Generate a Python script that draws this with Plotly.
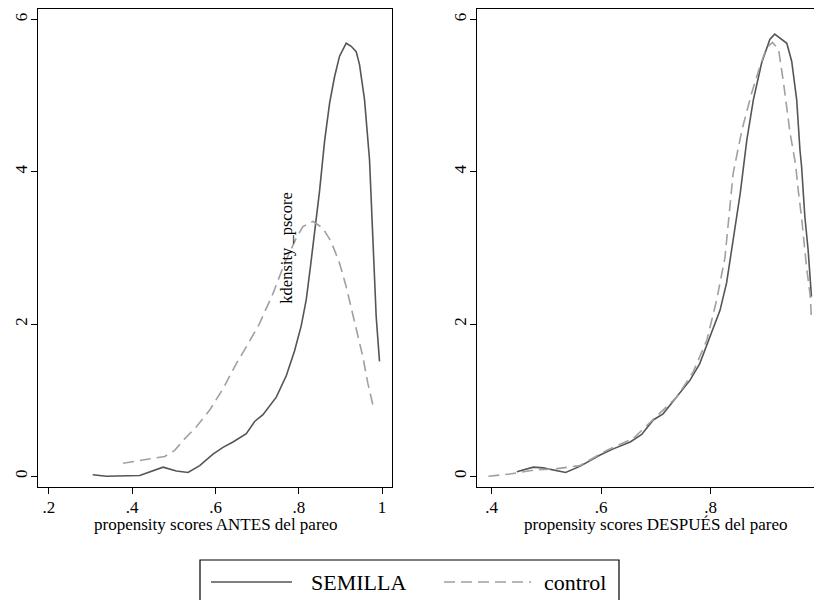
import plotly.graph_objects as go

# kdensity of propensity scores, before matching (ANTES)
antes_semilla_x = [0.305, 0.338, 0.418, 0.450, 0.474, 0.506, 0.534, 0.562, 0.594, 0.618, 0.642,
                   0.674, 0.694, 0.714, 0.746, 0.770, 0.790, 0.806, 0.818, 0.828, 0.838, 0.850,
                   0.862, 0.874, 0.886, 0.898, 0.914, 0.926, 0.938, 0.946, 0.958, 0.970, 0.986, 0.994]
antes_semilla_y = [0.02, 0.00, 0.01, 0.07, 0.12, 0.07, 0.05, 0.14, 0.29, 0.38, 0.45,
                   0.56, 0.72, 0.81, 1.04, 1.32, 1.65, 1.98, 2.32, 2.75, 3.20, 3.75,
                   4.40, 4.90, 5.25, 5.52, 5.69, 5.65, 5.58, 5.41, 4.95, 4.16, 2.10, 1.51]
antes_control_x = [0.378, 0.418, 0.450, 0.478, 0.502, 0.522, 0.554, 0.586, 0.618, 0.650, 0.674,
                   0.706, 0.738, 0.766, 0.794, 0.810, 0.834, 0.858, 0.878, 0.898, 0.914, 0.926,
                   0.938, 0.954, 0.966, 0.978]
antes_control_y = [0.17, 0.21, 0.24, 0.26, 0.34, 0.47, 0.65, 0.87, 1.15, 1.48, 1.70,
                   2.01, 2.40, 2.80, 3.13, 3.28, 3.35, 3.26, 3.08, 2.80, 2.49, 2.22,
                   1.96, 1.57, 1.22, 0.94]

# after matching (DESPUÉS)
despues_semilla_x = [0.446, 0.476, 0.494, 0.513, 0.535, 0.561, 0.598, 0.622, 0.653, 0.674, 0.695,
                     0.713, 0.741, 0.762, 0.780, 0.799, 0.817, 0.829, 0.838, 0.854, 0.866, 0.878,
                     0.893, 0.908, 0.917, 0.939, 0.948, 0.957, 0.963, 0.966, 0.972, 0.978, 0.984]
despues_semilla_y = [0.06, 0.12, 0.11, 0.08, 0.05, 0.13, 0.28, 0.36, 0.45, 0.55, 0.74,
                     0.82, 1.07, 1.26, 1.48, 1.83, 2.18, 2.54, 2.97, 3.72, 4.42, 4.95,
                     5.43, 5.74, 5.81, 5.69, 5.45, 4.95, 4.29, 4.07, 3.41, 2.97, 2.36]
despues_control_x = [0.394, 0.433, 0.476, 0.519, 0.561, 0.610, 0.659, 0.695, 0.738, 0.768, 0.793,
                     0.811, 0.826, 0.841, 0.857, 0.875, 0.890, 0.902, 0.913, 0.924, 0.933, 0.945,
                     0.955, 0.960, 0.966, 0.975, 0.982, 0.984]
despues_control_y = [0.00, 0.03, 0.08, 0.10, 0.14, 0.34, 0.50, 0.74, 1.04, 1.37, 1.79,
                     2.32, 2.87, 3.98, 4.55, 5.04, 5.39, 5.63, 5.70, 5.61, 5.17, 4.51,
                     4.10, 3.75, 3.40, 2.75, 2.36, 2.05]

y_ticks = [0, 2, 4, 6]
left_ticks = [0.2, 0.4, 0.6, 0.8, 1.0]
left_labels = [".2", ".4", ".6", ".8", "1"]
right_ticks = [0.4, 0.6, 0.8, 1.0]
right_labels = [".4", ".6", ".8", "1"]

W, H = 822, 600
OFF = 8  # page body margin, screen px -> figure px
SERIF = "Liberation Serif, Times New Roman, serif"
SOLID = "#555555"
DASH = "#a0a0a0"

def px(x): return (x - OFF) / W
def py(y): return 1 - (y - OFF) / H

fig = go.Figure()
fig.add_trace(go.Scatter(x=antes_semilla_x, y=antes_semilla_y, mode="lines",
                         line=dict(color=SOLID, width=1.6), xaxis="x", yaxis="y"))
fig.add_trace(go.Scatter(x=antes_control_x, y=antes_control_y, mode="lines",
                         line=dict(color=DASH, width=1.6, dash="11px,6px"), xaxis="x", yaxis="y"))
fig.add_trace(go.Scatter(x=despues_semilla_x, y=despues_semilla_y, mode="lines",
                         line=dict(color=SOLID, width=1.6), xaxis="x2", yaxis="y2"))
fig.add_trace(go.Scatter(x=despues_control_x, y=despues_control_y, mode="lines",
                         line=dict(color=DASH, width=1.6, dash="11px,6px"), xaxis="x2", yaxis="y2"))

ax = dict(showline=True, linecolor="black", linewidth=1.4, ticks="outside", ticklen=6,
          tickcolor="black", tickwidth=1.2, showgrid=False, zeroline=False,
          tickfont=dict(family=SERIF, size=17, color="black"))

fig.update_layout(
    width=W, height=H, showlegend=False,
    margin=dict(l=0, r=0, t=0, b=0),
    plot_bgcolor="white", paper_bgcolor="white",
    xaxis=dict(ax, domain=[px(38), px(392)], range=[0.1736, 1.024], anchor="y",
               tickvals=left_ticks, ticktext=left_labels, mirror=True, ticklabelstandoff=-2),
    yaxis=dict(ax, domain=[py(487), py(9)], range=[-0.141, 6.14], anchor="x",
               tickvals=y_ticks, tickangle=-90, mirror=True, ticklabelstandoff=-3),
    xaxis2=dict(ax, domain=[px(477.3), 1.0], range=[0.3737, 1.0179], anchor="y2",
                tickvals=right_ticks, ticktext=right_labels, mirror=True, ticklabelstandoff=-2),
    yaxis2=dict(ax, domain=[py(487), py(9)], range=[-0.141, 6.14], anchor="x2",
                tickvals=y_ticks, tickangle=-90, ticklabelstandoff=-3),
)

font = dict(family=SERIF, size=17, color="black")
fig.add_annotation(x=0.771, y=3.0, xref="x", yref="y", text="kdensity _pscore",
                   textangle=-90, showarrow=False, font=dict(family=SERIF, size=16.5, color="black"))
fig.add_annotation(x=px(216), y=py(524), xref="paper", yref="paper", xanchor="center",
                   yanchor="middle", text="propensity scores ANTES del pareo",
                   showarrow=False, font=font)
fig.add_annotation(x=px(655), y=py(524), xref="paper", yref="paper", xanchor="center",
                   yanchor="middle", text="propensity scores DESPUÉS del pareo",
                   showarrow=False, font=font)

# legend box drawn by hand (Stata-style long line samples)
fig.add_shape(type="rect", xref="paper", yref="paper", x0=px(200), x1=px(619),
              y0=py(606), y1=py(560), line=dict(color="black", width=1.2))
fig.add_shape(type="line", xref="paper", yref="paper", x0=px(211), x1=px(292),
              y0=py(582), y1=py(582), line=dict(color=SOLID, width=1.6))
fig.add_shape(type="line", xref="paper", yref="paper", x0=px(444), x1=px(531),
              y0=py(582), y1=py(582), line=dict(color=DASH, width=1.6, dash="11px,6px"))
lfont = dict(family=SERIF, size=22, color="black")
fig.add_annotation(x=px(309), y=py(582), xref="paper", yref="paper", xanchor="left",
                   yanchor="middle", text="SEMILLA", showarrow=False, font=lfont)
fig.add_annotation(x=px(542), y=py(582), xref="paper", yref="paper", xanchor="left",
                   yanchor="middle", text="control", showarrow=False, font=lfont)

fig.write_html("out.html")
